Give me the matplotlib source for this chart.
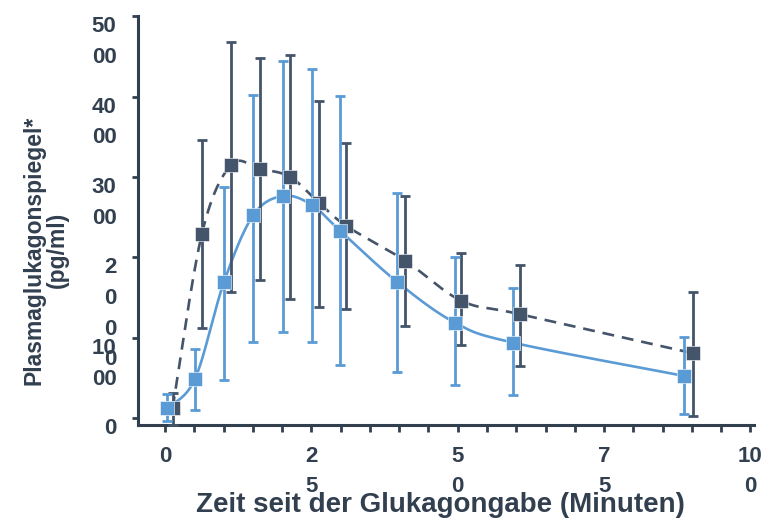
import numpy as np
import matplotlib
matplotlib.use("Agg")
import matplotlib.pyplot as plt

# values (minutes, pg/ml)
light_x = [0.3, 5.1, 10.1, 15.1, 20.2, 25.1, 29.9, 39.6, 49.5, 59.4, 88.7]
light_y = [130, 487, 1700, 2528, 2765, 2652, 2333, 1700, 1191, 943, 528]
light_hi = [304, 859, 2880, 4020, 4446, 4338, 4010, 2805, 2002, 1617, 1017]
light_lo = [-35, 106, 478, 954, 1078, 954, 665, 573, 417, 292, 51]

dark_x = [1.3, 6.3, 11.3, 16.2, 21.3, 26.3, 31.0, 41.0, 50.6, 60.7, 90.2]
dark_y = [127, 2292, 3150, 3097, 3004, 2681, 2391, 1961, 1464, 1294, 810]
dark_hi = [320, 3460, 4680, 4481, 4516, 3948, 3418, 2767, 2051, 1907, 1575]
dark_lo = [-80, 1120, 1575, 1720, 1481, 1389, 1356, 1150, 914, 653, 31]

x_ticks = [0, 25, 50, 75, 100]
x_ticklabels = ["0", "2\n5", "5\n0", "7\n5", "10\n0"]
y_ticks = [0, 1000, 2000, 3000, 4000, 5000]
y_ticklabels = ["0", "10\n00", "2\n0\n0\n0", "30\n00", "40\n00", "50\n00"]

LIGHT = "#5B9BD5"
DARK = "#44546A"
INK = "#323F4F"
FONT = "Liberation Sans"


def smooth(xs, ys, n=40):
    # Excel-like smoothed line (Catmull-Rom as cubic Bezier segments)
    p = np.column_stack([xs, ys]).astype(float)
    pts = []
    for i in range(len(p) - 1):
        p0 = p[max(i - 1, 0)]
        p1 = p[i]
        p2 = p[i + 1]
        p3 = p[min(i + 2, len(p) - 1)]
        b1 = p1 + (p2 - p0) / 6.0
        b2 = p2 - (p3 - p1) / 6.0
        t = np.linspace(0, 1, n)[:, None]
        seg = ((1 - t) ** 3) * p1 + 3 * ((1 - t) ** 2) * t * b1 + 3 * (1 - t) * t ** 2 * b2 + t ** 3 * p2
        pts.append(seg if i == 0 else seg[1:])
    out = np.vstack(pts)
    return out[:, 0], out[:, 1]


fig = plt.figure(figsize=(7.69, 5.2), dpi=100)
ax = fig.add_axes([0.1795, 0.1827, 0.801, 0.7865])


def draw_series(xs, ys, lo, hi, color, ls):
    xs = np.array(xs)
    ys = np.array(ys)
    yerr = [ys - np.array(lo), np.array(hi) - ys]
    sx, sy = smooth(xs, ys)
    ax.plot(sx, sy, color=color, lw=1.9, linestyle=ls, zorder=2)
    ax.errorbar(xs, ys, yerr=yerr, fmt="none", ecolor=color, elinewidth=2.0,
                capsize=3.4, capthick=2.0, zorder=3, clip_on=False)
    ax.plot(xs, ys, linestyle="none", marker="s", markersize=10,
            markerfacecolor=color, markeredgecolor="white", markeredgewidth=0.4,
            zorder=4, clip_on=False)


draw_series(dark_x, dark_y, dark_lo, dark_hi, DARK, (0, (4.5, 3)))
draw_series(light_x, light_y, light_lo, light_hi, LIGHT, "-")

ax.set_xlim(-4.6, 100.6)
ax.set_ylim(-81, 5000)

for side in ("top", "right"):
    ax.spines[side].set_visible(False)
for side in ("left", "bottom"):
    ax.spines[side].set_color(INK)
    ax.spines[side].set_linewidth(2.2)

ax.set_xticks(np.arange(0, 101, 5), minor=True)
ax.set_xticks(x_ticks)
ax.set_xticklabels(x_ticklabels, fontfamily=FONT, fontweight="bold", fontsize=16, color=INK)
ax.set_yticks(y_ticks)
ax.set_yticklabels(y_ticklabels, fontfamily=FONT, fontweight="bold", fontsize=16, color=INK)
for t in ax.get_xticklabels():
    t.set_linespacing(1.6)
for t in ax.get_yticklabels():
    t.set_linespacing(1.6)
    t.set_verticalalignment("top")

ax.tick_params(axis="x", which="both", direction="out", length=5, width=2, color=INK, pad=10)
ax.tick_params(axis="y", direction="out", length=4.5, width=2, color=INK, pad=11)

fig.text(440 / 769, 8 / 520, "Zeit seit der Glukagongabe (Minuten)", fontfamily=FONT,
         fontweight="bold", fontsize=20, color=INK, ha="center", va="baseline")
fig.text(46 / 769, 1 - 250 / 520, "Plasmaglukagonspiegel*\n(pg/ml)", fontfamily=FONT,
         fontweight="bold", fontsize=16.5, color=INK, rotation=90, ha="center", va="center",
         linespacing=1.0)

fig.savefig("out.png", dpi=100)
